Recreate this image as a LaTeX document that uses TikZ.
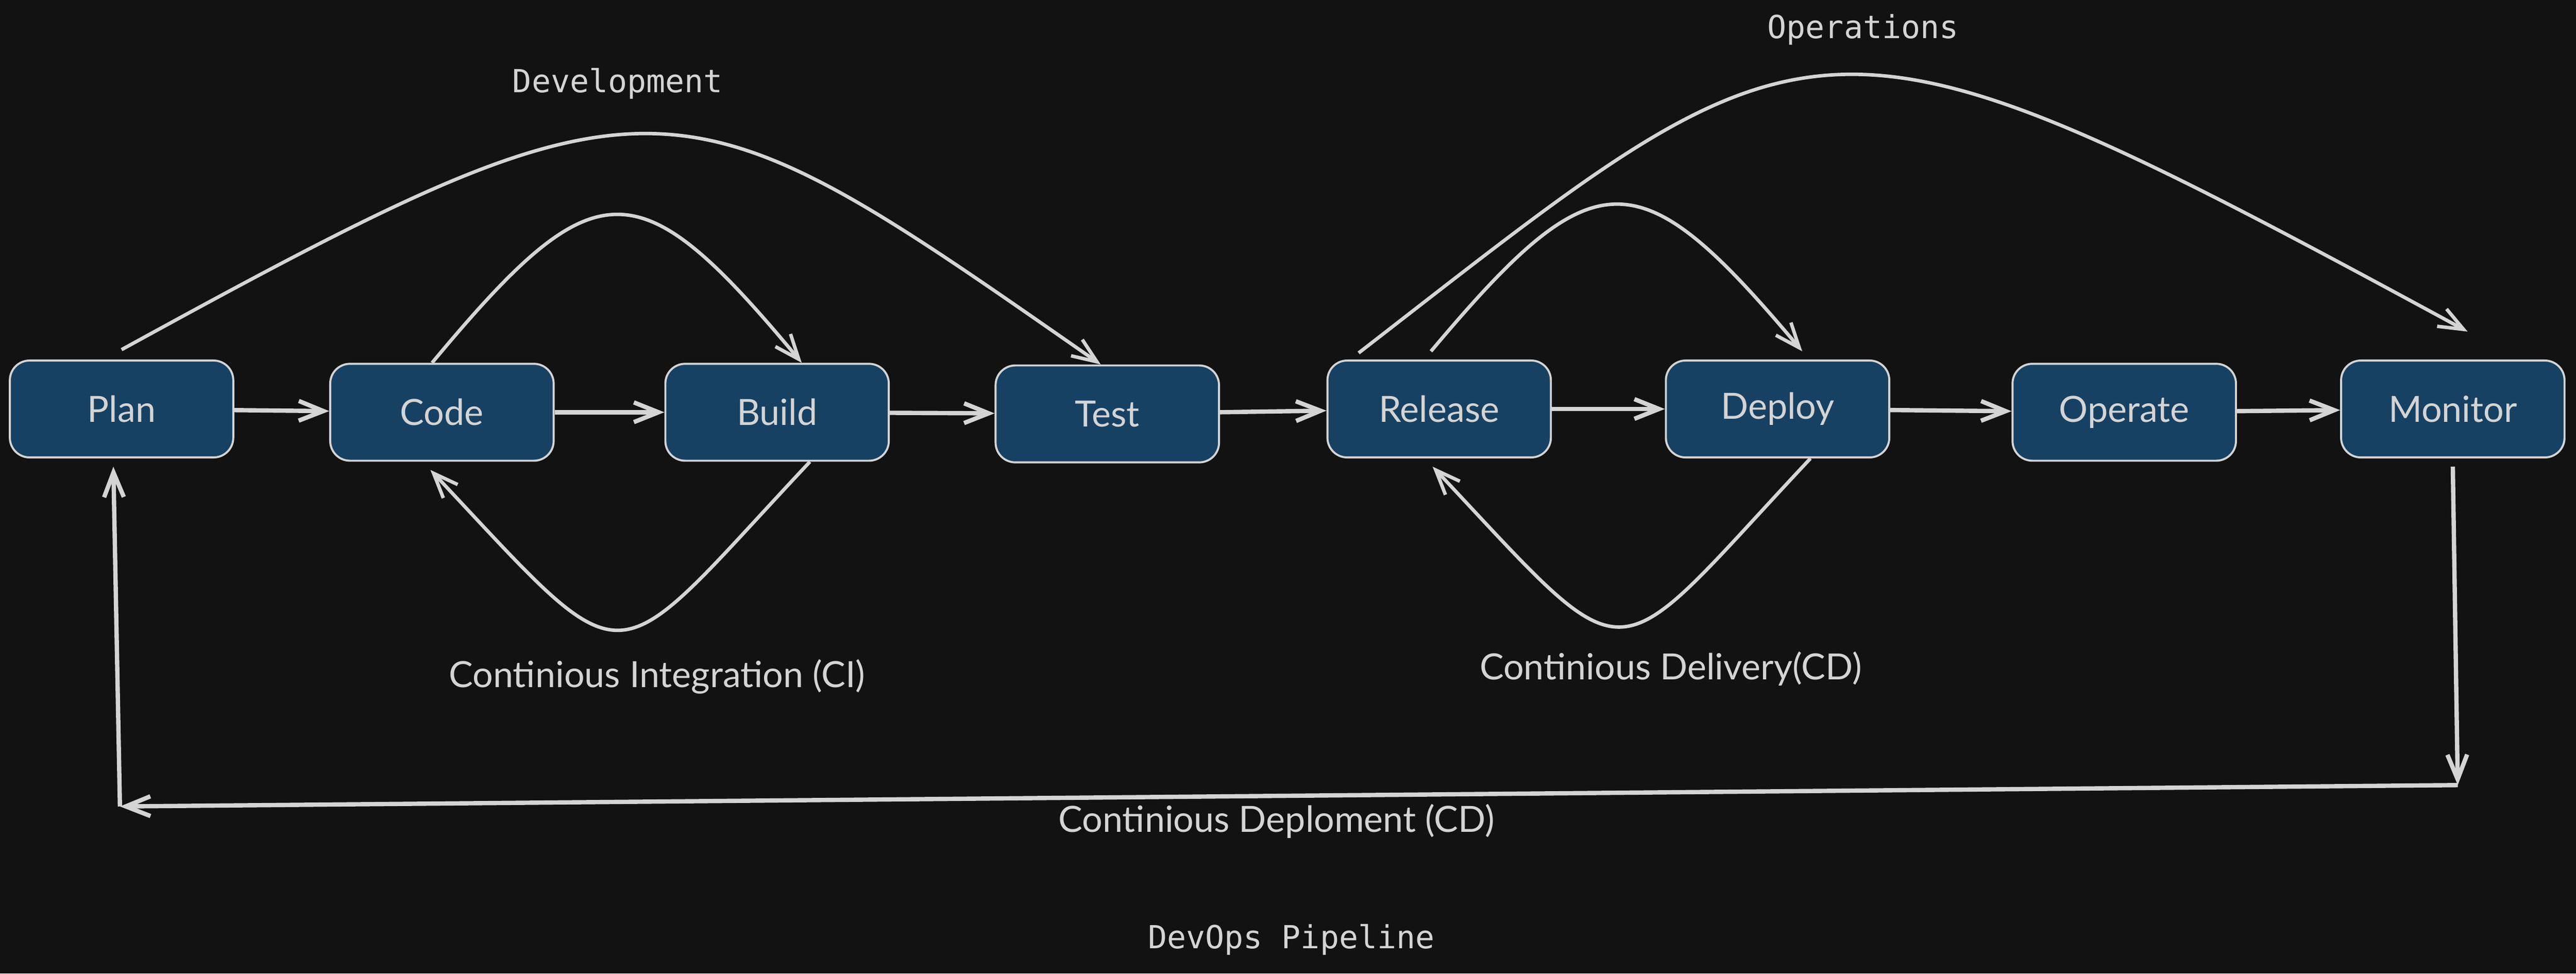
\documentclass[tikz,border=0pt]{standalone}
\usepackage{fontspec}
\setmainfont{Lato}
\newfontfamily\handfont{DejaVu Sans Mono}
\usetikzlibrary{arrows.meta}
\definecolor{bgcol}{HTML}{121212}
\definecolor{boxcol}{HTML}{174163}
\definecolor{inkcol}{HTML}{D4D4D4}

\begin{document}
\begin{tikzpicture}
    \path[use as bounding box, fill=bgcol] (0,0) rectangle (31.36,-11.854);
    \begin{scope}[every node/.style={rectangle,rounded corners=2.4mm,draw=inkcol,line width=0.7pt,fill=boxcol,text=inkcol,minimum width=2.72cm,minimum height=1.18cm,font=\fontsize{12.5}{15}\selectfont}]
        \node (1) at (1.48,-4.98) {Plan};
        \node (2) at (5.38,-5.02) {Code};
        \node (3) at (9.46,-5.02) {Build};
        \node (4) at (13.48,-5.04) {Test};
        \node (5) at (17.52,-4.98) {Release};
        \node (6) at (21.64,-4.98) {Deploy};
        \node (7) at (25.86,-5.02) {Operate};
        \node (8) at (29.86,-4.98) {Monitor};
    \end{scope}
    \begin{scope}[every node/.style={text=inkcol,font=\fontsize{12.5}{15}\selectfont}]
        \node (ci) at (8.00,-8.24) {Continious Integration (CI)};
        \node (cd) at (20.34,-8.14) {Continious Delivery(CD)};
        \node (cdp) at (15.54,-10.00) {Continious Deploment (CD)};
        \node[font=\handfont\fontsize{11}{13}\selectfont] (dev) at (7.52,-1.02) {Development};
        \node[font=\handfont\fontsize{11}{13}\selectfont] (ops) at (22.68,-0.36) {Operations};
        \node[font=\handfont\fontsize{11}{13}\selectfont] (title) at (15.72,-11.44) {DevOps Pipeline};
    \end{scope}
    \begin{scope}[>={Straight Barb[length=3mm,width=2.4mm]},
        every edge/.style={draw=inkcol,line width=1.5pt}]
        \path [->] (1) edge (2);
        \path [->] (2) edge (3);
        \path [->] (3) edge (4);
        \path [->] (4) edge (5);
        \path [->] (5) edge (6);
        \path [->] (6) edge (7);
        \path [->] (7) edge (8);
        % deployment loop back to plan
        \coordinate (c1) at (29.92,-9.56);
        \coordinate (c2) at (1.46,-9.82);
        \path [->] ([yshift=-1mm]8.south) edge (c1);
        \path [->] (c1) edge (c2);
        \path [->] (c2) edge ([xshift=-1mm,yshift=-1mm]1.south);
        % loops
        \draw [->,inkcol,line width=1.2pt] ([xshift=-1.2mm]2.north) .. controls +(2.0,2.4) and +(-2.0,2.4) .. ([xshift=3mm]3.north);
        \draw [->,inkcol,line width=1.2pt] ([xshift=4mm]3.south) .. controls +(-2.5,-2.66) and +(2.5,-2.66) .. ([xshift=-1.4mm,yshift=-1mm]2.south);
        \draw [->,inkcol,line width=1.2pt] ([xshift=-1mm,yshift=1mm]5.north) .. controls +(2.0,2.38) and +(-2.0,2.38) .. ([xshift=3mm,yshift=1mm]6.north);
        \draw [->,inkcol,line width=1.2pt] ([xshift=4mm]6.south) .. controls +(-2.5,-2.66) and +(2.5,-2.66) .. ([xshift=-0.8mm,yshift=-1mm]5.south);
        \draw [->,inkcol,line width=1.2pt] ([yshift=1.2mm]1.north) .. controls +(6.6,3.62) and +(-5.2,3.62) .. ([xshift=-0.8mm]4.north);
        \draw [->,inkcol,line width=1.2pt] ([xshift=-9.8mm,yshift=0.8mm]5.north) .. controls +(5.6,4.34) and +(-8.0,4.34) .. ([xshift=1.8mm,yshift=3.4mm]8.north);
    \end{scope}
\end{tikzpicture}
\end{document}
